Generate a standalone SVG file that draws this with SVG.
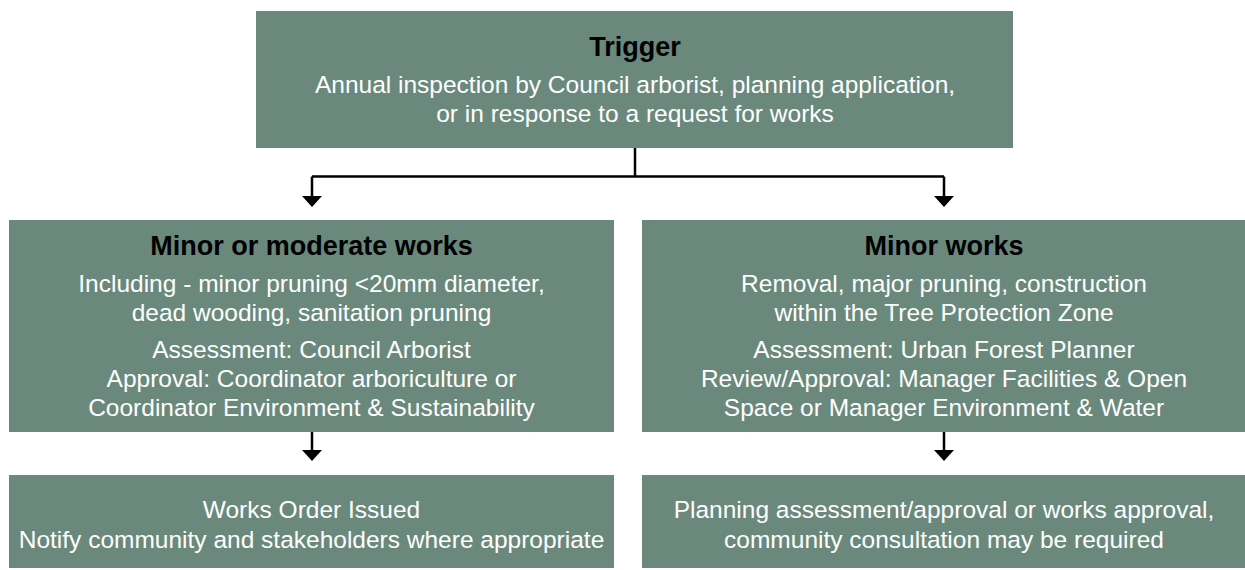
<svg xmlns="http://www.w3.org/2000/svg" width="1245" height="570" viewBox="0 0 1245 570">
  <defs>
    <style>
      .box { fill: #6a897c; }
      .title { font-family: "Liberation Sans", Arial, sans-serif; font-size: 27px; font-weight: bold; fill: #000; text-anchor: middle; }
      .body { font-family: "Liberation Sans", Arial, sans-serif; font-size: 24.5px; fill: #fff; text-anchor: middle; }
      .conn { fill: none; stroke: #000; stroke-width: 2.5; }
      .head { fill: #000; }
    </style>
  </defs>
  <rect width="1245" height="570" fill="#fff"/>

  <g id="connectors">
    <path class="conn" d="M635,148 V176.5 M312,176.5 H944"/>
    <path class="conn" d="M312,176.5 V197"/>
    <path class="conn" d="M944,176.5 V197"/>
    <polygon class="head" points="302,196 322,196 312,207"/>
    <polygon class="head" points="934,196 954,196 944,207"/>
    <path class="conn" d="M312,432 V451"/>
    <path class="conn" d="M944,432 V451"/>
    <polygon class="head" points="302,450 322,450 312,461"/>
    <polygon class="head" points="934,450 954,450 944,461"/>
  </g>

  <g id="trigger">
    <rect class="box" x="256" y="11" width="757" height="137"/>
    <text class="title" x="635" y="56">Trigger</text>
    <text class="body" x="635" y="93">Annual inspection by Council arborist, planning application,</text>
    <text class="body" x="635" y="122">or in response to a request for works</text>
  </g>

  <g id="minor-moderate">
    <rect class="box" x="9" y="220" width="605" height="212"/>
    <text class="title" x="311.5" y="255">Minor or moderate works</text>
    <text class="body" x="311.5" y="292">Including - minor pruning &lt;20mm diameter,</text>
    <text class="body" x="311.5" y="321">dead wooding, sanitation pruning</text>
    <text class="body" x="311.5" y="358">Assessment: Council Arborist</text>
    <text class="body" x="311.5" y="387">Approval: Coordinator arboriculture or</text>
    <text class="body" x="311.5" y="416">Coordinator Environment &amp; Sustainability</text>
  </g>

  <g id="minor">
    <rect class="box" x="642" y="220" width="605" height="212"/>
    <text class="title" x="944" y="255">Minor works</text>
    <text class="body" x="944" y="292">Removal, major pruning, construction</text>
    <text class="body" x="944" y="321">within the Tree Protection Zone</text>
    <text class="body" x="944" y="358">Assessment: Urban Forest Planner</text>
    <text class="body" x="944" y="387">Review/Approval: Manager Facilities &amp; Open</text>
    <text class="body" x="944" y="416">Space or Manager Environment &amp; Water</text>
  </g>

  <g id="works-order">
    <rect class="box" x="9" y="475" width="605" height="93"/>
    <text class="body" x="311.5" y="518">Works Order Issued</text>
    <text class="body" x="311.5" y="548">Notify community and stakeholders where appropriate</text>
  </g>

  <g id="planning">
    <rect class="box" x="642" y="475" width="605" height="93"/>
    <text class="body" x="944" y="518">Planning assessment/approval or works approval,</text>
    <text class="body" x="944" y="548">community consultation may be required</text>
  </g>
</svg>
